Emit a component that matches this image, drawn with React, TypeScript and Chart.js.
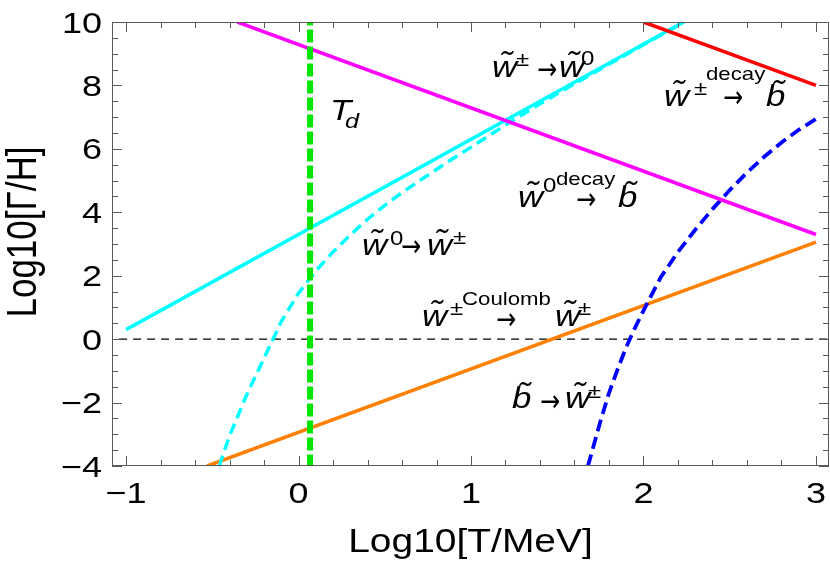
import React, { useEffect, useRef } from 'react';
import { Chart, registerables } from 'chart.js';

Chart.register(...registerables);

// ---- axis ranges / ticks ----
const X_MIN = -1.0812;
const X_MAX = 3.0754;
const Y_MIN = -4;
const Y_MAX = 10;
const xTicks = [-1, 0, 1, 2, 3];
const xTickLabels = ['\u22121', '0', '1', '2', '3'];
const yTicks = [-4, -2, 0, 2, 4, 6, 8, 10];
const yTickLabels = ['\u22124', '\u22122', '0', '2', '4', '6', '8', '10'];
const xTitle = 'Log10[T/MeV]';
const yTitle = 'Log10[\u0393/H]';

// ---- series ----
const magentaX = [-0.355, 3.0];
const magentaY = [10, 3.3];
const redX = [2.0, 3.0];
const redY = [10, 8.0];
const cyanX = [-1.0, 2.233];
const cyanY = [0.3, 10];
const orangeX = [-0.53, 3.0];
const orangeY = [-4, 3.06];
const tdX = [0.067, 0.067];
const tdY = [-4.05, 10];
const zeroX = [-1.04, 3.07];
const zeroY = [0, 0];
const cyanDashX = [-0.46, -0.4, -0.3, -0.2, -0.1, 0, 0.1, 0.2, 0.3, 0.4, 0.5, 0.6, 0.7, 0.8, 0.9, 1.0, 1.1, 1.2, 1.4, 1.6, 1.8, 2.0, 2.2, 2.233];
const cyanDashY = [-4, -3.05, -1.75, -0.6, 0.55, 1.45, 2.15, 2.75, 3.28, 3.78, 4.22, 4.62, 4.99, 5.35, 5.71, 6.05, 6.4, 6.75, 7.42, 8.05, 8.67, 9.28, 9.89, 10];
const blueX = [1.678, 1.75, 1.8, 1.85, 1.9, 1.95, 2.0, 2.1, 2.2, 2.3, 2.4, 2.5, 2.6, 2.7, 2.8, 2.9, 3.0];
const blueY = [-4, -2.6, -1.7, -0.95, -0.25, 0.35, 0.9, 1.95, 2.75, 3.45, 4.1, 4.7, 5.25, 5.75, 6.2, 6.6, 6.94];

const pts = (xs: number[], ys: number[]) => xs.map((x, i) => ({ x, y: ys[i] }));

const W = 'w\u0303';
const B = 'b\u0303';
const FF = '"Liberation Sans", Arial, sans-serif';
const SX = 1.2;
const F_I = `italic 29px ${FF}`;
const F_S = `20px ${FF}`;
const F_D = `18.5px ${FF}`;
const F_A = `30px "DejaVu Sans", sans-serif`;
const AR = '\u2192';

// [text, x, baseline y, font, align]
type Run = [string, number, number, string, CanvasTextAlign?];
const labelRuns: Run[] = [
  // w± -> w0
  [W, 492, 77, F_I], ['\u00b1', 516, 66, F_S], [AR, 547, 79, F_A, 'center'], [W, 559, 77, F_I], ['0', 581, 65, F_S],
  // w± decay-> b
  [W, 664, 106, F_I], ['\u00b1', 694, 95, F_S], ['decay', 706, 80, F_D], [AR, 733, 107, F_A, 'center'], [B, 766, 106, F_I],
  // w0 decay-> b
  [W, 518, 207, F_I], ['0', 543, 192, F_S], ['decay', 556, 185, F_D], [AR, 586, 209, F_A, 'center'], [B, 618, 207, F_I],
  // w0 -> w±
  [W, 362, 255, F_I], ['0', 390, 245, F_S], [AR, 411, 256, F_A, 'center'], [W, 427, 255, F_I], ['\u00b1', 453, 244, F_S],
  // w± Coulomb-> w±
  [W, 422, 326, F_I], ['\u00b1', 450, 315, F_S], ['Coulomb', 462, 305, F_D], [AR, 506, 329, F_A, 'center'], [W, 555, 326, F_I], ['\u00b1', 578, 315, F_S],
  // b -> w±
  [B, 512, 408, F_I], [AR, 550, 411, F_A, 'center'], [W, 565, 408, F_I], ['\u00b1', 588, 398, F_S],
  // T_d
  ['T', 330, 120, `italic 29px ${FF}`], ['d', 345, 128, `italic 21px ${FF}`],
];

function drawText(ctx: CanvasRenderingContext2D, s: string, x: number, y: number, font: string, align: CanvasTextAlign = 'left', sx = SX) {
  ctx.save();
  ctx.font = font;
  ctx.textAlign = align;
  ctx.textBaseline = 'alphabetic';
  ctx.fillStyle = '#000';
  ctx.translate(x, y);
  ctx.scale(sx, 1);
  ctx.fillText(s, 0, 0);
  ctx.restore();
}

const framePlugin = {
  id: 'frameAndText',
  afterDraw(chart: any) {
    const ctx: CanvasRenderingContext2D = chart.ctx;
    const area = chart.chartArea;
    const left = Math.round(area.left);
    const right = Math.round(area.right);
    const top = Math.round(area.top);
    const bottom = Math.round(area.bottom);
    const xs = chart.scales.x;
    const ys = chart.scales.y;
    ctx.save();
    ctx.fillStyle = '#5a5a5a';
    ctx.fillRect(left, top, right - left, 1);
    ctx.fillRect(left, bottom - 1, right - left, 1);
    ctx.fillRect(left, top, 1, bottom - top);
    ctx.fillRect(right - 1, top, 1, bottom - top);
    for (let k = -5; k <= 15; k++) {
      const v = k * 0.2;
      if (v < X_MIN || v > X_MAX) continue;
      const px = Math.round(xs.getPixelForValue(v));
      const len = k % 5 === 0 ? 10 : 6;
      ctx.fillRect(px, bottom - len, 1, len);
      ctx.fillRect(px, top, 1, len);
    }
    for (let k = -8; k <= 20; k++) {
      const v = k * 0.5;
      const py = Math.round(ys.getPixelForValue(v));
      const len = k % 4 === 0 ? 10 : 6;
      ctx.fillRect(left, py, len, 1);
      ctx.fillRect(right - len, py, len, 1);
    }
    ctx.restore();

    const tf = `30px ${FF}`;
    xTicks.forEach((v, i) => {
      drawText(ctx, xTickLabels[i], xs.getPixelForValue(v), bottom + 37, tf, 'center');
    });
    yTicks.forEach((v, i) => {
      drawText(ctx, yTickLabels[i], left - 10, ys.getPixelForValue(v) + 10.5, tf, 'right');
    });
    drawText(ctx, xTitle, (left + right) / 2, 552, `33px ${FF}`, 'center', 1.18);
    ctx.save();
    ctx.font = `35px ${FF}`;
    ctx.fillStyle = '#000';
    ctx.textAlign = 'center';
    ctx.textBaseline = 'alphabetic';
    ctx.translate(36, 232);
    ctx.rotate(-Math.PI / 2);
    ctx.scale(1, 1.2);
    ctx.fillText(yTitle, 0, 0);
    ctx.restore();

    labelRuns.forEach(([s, x, y, f, a]) => drawText(ctx, s, x, y, f, a || 'left', f === F_A ? 0.8 : SX));
  },
};

export default function App() {
  const ref = useRef<HTMLCanvasElement | null>(null);
  useEffect(() => {
    if (!ref.current) return;
    const line = (data: any, color: string, width: number, dash: number[] = []) => ({
      data,
      borderColor: color,
      backgroundColor: color,
      borderWidth: width,
      borderDash: dash,
      showLine: true,
      pointRadius: 0,
      fill: false,
      tension: 0,
    });
    const chart = new Chart(ref.current, {
      type: 'scatter',
      data: {
        datasets: [
          line(pts(tdX, tdY), '#00e600', 6, [13, 4]),
          line(pts(redX, redY), '#ff0000', 3.5),
          line(pts(magentaX, magentaY), '#ff00ff', 3.5),
          line(pts(cyanX, cyanY), '#00ffff', 3.5),
          line(pts(cyanDashX, cyanDashY), '#00ffff', 3.5, [11, 6]),
          line(pts(blueX, blueY), '#0000ff', 3.8, [12, 6]),
          line(pts(orangeX, orangeY), '#ff8000', 3.5),
          line(pts(zeroX, zeroY), '#000000', 1.3, [8, 6]),
        ],
      },
      options: {
        responsive: false,
        devicePixelRatio: 1,
        animation: false,
        layout: { padding: { left: 112, top: 22, right: 1, bottom: 102 } },
        scales: {
          x: { type: 'linear', min: X_MIN, max: X_MAX, display: false },
          y: { type: 'linear', min: Y_MIN, max: Y_MAX, display: false },
        },
        plugins: { legend: { display: false }, tooltip: { enabled: false } },
        events: [],
      },
      plugins: [framePlugin],
    });
    return () => chart.destroy();
  }, []);
  return (
    <div style={{ position: 'fixed', left: 0, top: 0, width: 830, height: 568, background: '#fff' }}>
      <canvas ref={ref} width={830} height={568} style={{ display: 'block' }} />
    </div>
  );
}
